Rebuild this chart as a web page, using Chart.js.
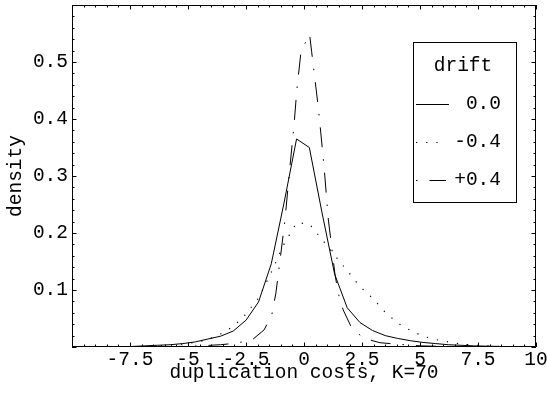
<!DOCTYPE html>
<html>
<head>
<meta charset="utf-8">
<script src="https://cdn.jsdelivr.net/npm/chart.js@4/dist/chart.umd.min.js"></script>
<style>
  html, body { margin: 0; padding: 0; background: #fff; }
  canvas { display: block; }
</style>
</head>
<body>
<canvas id="densityChart" width="547" height="400"></canvas>
<script>
// ---- data ----
const gridX = [-10.13, -9.59, -9.04, -8.50, -7.95, -7.41, -6.86, -6.32, -5.77, -5.23,
    -4.68, -4.14, -3.59, -3.05, -2.50, -1.96, -1.41, -0.87, -0.32, 0.23,
    0.77, 1.32, 1.86, 2.41, 2.95, 3.50, 4.04, 4.59, 5.13, 5.68,
    6.22, 6.77, 7.31, 7.86, 8.40, 8.95, 9.49, 10.04];

const drift0 = [0.0002, 0.0002, 0.0002, 0.0003, 0.0005, 0.001, 0.002, 0.003, 0.004, 0.006,
    0.009, 0.014, 0.019, 0.028, 0.047, 0.079, 0.146, 0.251, 0.365, 0.350,
    0.237, 0.128, 0.069, 0.043, 0.029, 0.020, 0.015, 0.011, 0.008, 0.006,
    0.004, 0.003, 0.002, 0.0015, 0.001, 0.0005, 0.0003, 0.0002];

const driftMinus = [0.0001, 0.0001, 0.0002, 0.0003, 0.0004, 0.0006, 0.001, 0.002, 0.003, 0.005,
    0.008, 0.013, 0.023, 0.036, 0.058, 0.086, 0.131, 0.180, 0.218, 0.216,
    0.189, 0.161, 0.134, 0.106, 0.086, 0.061, 0.042, 0.029, 0.019, 0.013,
    0.009, 0.005, 0.0035, 0.002, 0.001, 0.0006, 0.0003, 0.0002];

const plusX = [-10, -6, -4.5, -3.6, -2.97, -2.25, -1.72, -1.39, -1.21, -1.03,
    -0.82, -0.60, -0.43, -0.31, -0.13, 0.24, 0.33, 0.62, 0.86, 1.05,
    1.34, 1.48, 1.69, 2.06, 2.59, 3.28, 4.00, 5.0, 6.5, 10];
const driftPlus = [0, 0.0003, 0.002, 0.004, 0.0065, 0.012, 0.030, 0.056, 0.095, 0.153,
    0.223, 0.319, 0.389, 0.451, 0.518, 0.549, 0.518, 0.419, 0.319, 0.223,
    0.126, 0.094, 0.065, 0.033, 0.015, 0.0075, 0.005, 0.002, 0.0005, 0];

const seriesNames = ['0.0', '-0.4', '+0.4'];
const legendTitle = 'drift';

const xTickValues = [-7.5, -5, -2.5, 0, 2.5, 5, 7.5, 10];
const xTickLabels = ['-7.5', '-5', '-2.5', '0', '2.5', '5', '7.5', '10'];
const yTickValues = [0.1, 0.2, 0.3, 0.4, 0.5];
const yTickLabels = ['0.1', '0.2', '0.3', '0.4', '0.5'];

const FONT = { family: "'Liberation Mono', 'Courier New', monospace", size: 19.5 };

function toPoints(xs, ys) {
    return xs.map((x, i) => ({ x: x, y: ys[i] }));
}

// frame with inward ticks on all four sides, like the original plot
const framePlugin = {
    id: 'frame',
    afterDatasetsDraw(chart) {
        const { ctx, chartArea: a, scales: { x, y } } = chart;
        ctx.save();
        ctx.strokeStyle = '#000';
        ctx.lineWidth = 1;
        ctx.beginPath();
        ctx.rect(a.left + 0.5, a.top + 0.5, a.right - a.left - 1, a.bottom - a.top - 1);
        ctx.stroke();

        ctx.beginPath();
        for (let i = -20; i <= 20; i++) {
            const v = i * 0.5;
            const px = Math.round(x.getPixelForValue(v)) + 0.5;
            const len = (i % 5 === 0) ? 4.5 : 2.5;
            ctx.moveTo(px, a.bottom); ctx.lineTo(px, a.bottom - len);
            ctx.moveTo(px, a.top); ctx.lineTo(px, a.top + len);
        }
        for (let i = 0; i <= 30; i++) {
            const v = i * 0.02;
            const py = Math.round(y.getPixelForValue(v)) + 0.5;
            const len = (i % 5 === 0) ? 4.5 : 2.5;
            ctx.moveTo(a.left, py); ctx.lineTo(a.left + len, py);
            ctx.moveTo(a.right, py); ctx.lineTo(a.right - len, py);
        }
        ctx.stroke();
        ctx.restore();
    },
    afterDraw(chart) {
        // boxed legend with title
        const { ctx } = chart;
        const box = { l: 413, t: 42, r: 516, b: 202 };
        ctx.save();
        ctx.strokeStyle = '#000';
        ctx.lineWidth = 1;
        ctx.strokeRect(box.l + 0.5, box.t + 0.5, box.r - box.l, box.b - box.t);
        ctx.fillStyle = '#000';
        ctx.font = FONT.size + 'px ' + FONT.family;
        ctx.textBaseline = 'middle';
        ctx.textAlign = 'center';
        ctx.fillText(legendTitle, 463, 66);
        const rows = [104, 142, 180];
        chart.data.datasets.forEach((ds, i) => {
            const yy = rows[i] + 0.5;
            ctx.save();
            ctx.setLineDash(ds.borderDash || []);
            ctx.lineDashOffset = ds.legendDashOffset || 0;
            ctx.lineWidth = ds.borderWidth;
            ctx.beginPath();
            ctx.moveTo(416, yy);
            ctx.lineTo(ds.legendEnd || 449, yy);
            ctx.stroke();
            ctx.restore();
            ctx.textAlign = 'right';
            ctx.fillText(seriesNames[i], 501, rows[i]);
        });
        ctx.restore();
    }
};

const ctx = document.getElementById('densityChart').getContext('2d');
new Chart(ctx, {
    type: 'line',
    data: {
        datasets: [
            {
                label: seriesNames[0],
                data: toPoints(gridX, drift0),
                borderColor: '#000',
                borderWidth: 1,
                pointRadius: 0,
                tension: 0
            },
            {
                label: seriesNames[1],
                data: toPoints(gridX, driftMinus),
                borderColor: '#000',
                borderWidth: 1.2,
                borderDash: [1.2, 9],
                legendEnd: 441,
                pointRadius: 0,
                tension: 0
            },
            {
                label: seriesNames[2],
                data: toPoints(plusX, driftPlus),
                borderColor: '#000',
                borderWidth: 1,
                borderDash: [20, 12, 1.5, 12],
                legendDashOffset: 32,
                legendEnd: 446,
                pointRadius: 0,
                tension: 0
            }
        ]
    },
    options: {
        responsive: false,
        animation: false,
        devicePixelRatio: 1,
        layout: { padding: { top: 5, right: 11, left: 0, bottom: 0 } },
        plugins: {
            legend: { display: false },
            tooltip: { enabled: false }
        },
        scales: {
            x: {
                type: 'linear',
                min: -10,
                max: 10,
                afterBuildTicks: axis => { axis.ticks = xTickValues.map(v => ({ value: v })); },
                afterFit: s => { s.height = 53; s.paddingLeft = 0; s.paddingRight = 0; },
                grid: { display: false, drawTicks: false },
                border: { display: false },
                ticks: {
                    color: '#000',
                    font: FONT,
                    padding: 1,
                    maxRotation: 0,
                    autoSkip: false,
                    callback: (v, i) => xTickLabels[i]
                },
                title: {
                    display: true,
                    text: 'duplication costs, K=70',
                    color: '#000',
                    font: FONT,
                    padding: { top: 0, bottom: 15 }
                }
            },
            y: {
                type: 'linear',
                min: 0,
                max: 0.6,
                afterBuildTicks: axis => { axis.ticks = yTickValues.map(v => ({ value: v })); },
                afterFit: s => { s.width = 72; s.paddingTop = 0; s.paddingBottom = 0; },
                grid: { display: false, drawTicks: false },
                border: { display: false },
                ticks: {
                    color: '#000',
                    font: FONT,
                    padding: 4,
                    autoSkip: false,
                    callback: (v, i) => yTickLabels[i]
                },
                title: {
                    display: true,
                    text: 'density',
                    color: '#000',
                    font: FONT,
                    padding: { top: 4, bottom: 0 }
                }
            }
        }
    },
    plugins: [framePlugin]
});
</script>
</body>
</html>
